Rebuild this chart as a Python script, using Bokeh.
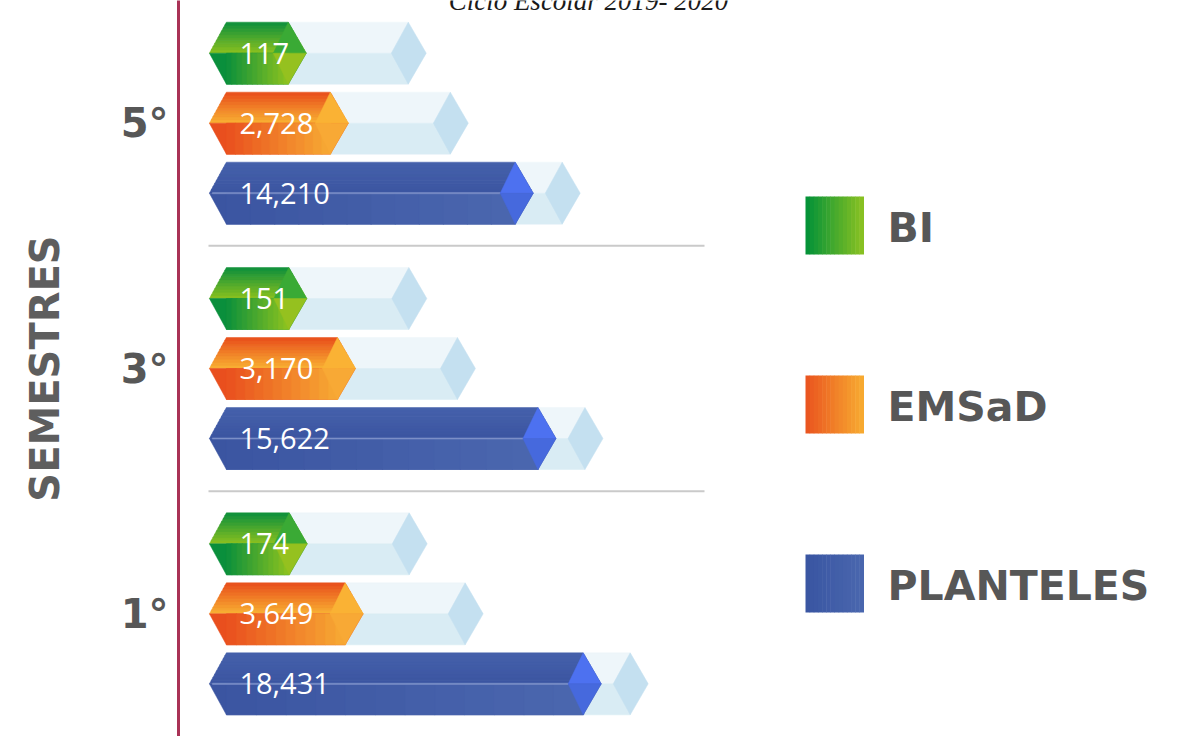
from bokeh.plotting import figure
from bokeh.models import Range1d, FactorRange, ColumnDataSource
from bokeh.embed import file_html
from bokeh.resources import INLINE
from bokeh.core.properties import value

# ---------------- data ----------------
semesters = ["5°", "3°", "1°"]
series = ["BI", "EMSaD", "PLANTELES"]
bi_values = [117, 151, 174]
emsad_values = [2728, 3170, 3649]
planteles_values = [14210, 15622, 18431]
title_text = "Ciclo Escolar 2019- 2020"
axis_title = "SEMESTRES"

values_by_series = {"BI": bi_values, "EMSaD": emsad_values, "PLANTELES": planteles_values}

# ---------------- style / layout ----------------
W, H = 1170, 736
LEFT = 178
FRAME_W = W - LEFT
X_START, X_END = -6700, 54900
U = (X_END - X_START) / FRAME_W          # value units per pixel
RP = 0.0
N_F = len(semesters)
UNIT_PX = H / (N_F * (1 + RP))
Y_START = -N_F * RP / 2
HALF = 31 / UNIT_PX                      # half bar height (categorical units)
EY = 0.6 / UNIT_PX
DODGE = {"BI": 70 / UNIT_PX, "EMSaD": 0.0, "PLANTELES": -70 / UNIT_PX}
TIP_L, TIP_R, FACE_BACK = 17 * U, 18 * U, 15 * U
BASE = -77 * U
LABEL_X = BASE + 30 * U


def py(fig_y):
    """figure pixel row -> synthetic categorical coordinate (decorations only)"""
    return Y_START + (H - fig_y) / UNIT_PX


STYLE = {
    "BI": dict(top=("#0d8f3c", "#8cc11f"), bottom=("#0a8f3c", "#8ec31f"),
               face=("#3aaa35", "#95c11f"), track_px=120, midline=None,
               legend=("#009139", "#8cc221")),
    "EMSaD": dict(top=("#e84e1c", "#f9b233"), bottom=("#e94f1e", "#f7aa34"),
                  face=("#fab234", "#f8a935"), track_px=120, midline=None,
                  legend=("#e9531f", "#f8ac31")),
    "PLANTELES": dict(top=("#4661ab", "#3b55a1"), bottom=("#3b55a1", "#4b67af"),
                      face=("#4d71f0", "#4669dd"), track_px=47, midline="#7d90c9",
                      legend=("#3955a2", "#4a67ae")),
}
TRACK_TOP, TRACK_BOTTOM, TRACK_END = "#eef6fa", "#d9ecf4", "#c4e0f0"


def mix(c1, c2, t):
    a = [int(c1[i:i + 2], 16) for i in (1, 3, 5)]
    b = [int(c2[i:i + 2], 16) for i in (1, 3, 5)]
    return "#%02x%02x%02x" % tuple(round(a[i] + (b[i] - a[i]) * t) for i in range(3))


y_range = FactorRange(*reversed(semesters), range_padding=RP)

p = figure(width=W, height=H, x_range=Range1d(X_START, X_END), y_range=y_range,
           x_axis_location=None, output_backend="svg", toolbar_location=None,
           min_border_left=LEFT, min_border_right=0, min_border_top=0,
           min_border_bottom=0, title=None)
p.extra_x_ranges = {"px": Range1d(LEFT, W)}
p.xgrid.visible = False
p.ygrid.visible = False
p.outline_line_color = None
p.background_fill_color = "white"
p.border_fill_color = "white"

# ---------------- bars (prism shapes) ----------------
xs_l, ys_l, cols = [], [], []


def add(xs, offs, s, k, c):
    xs_l.append(list(xs))
    ys_l.append([(s, DODGE[k] + o) for o in offs])
    cols.append(c)


for si, s in enumerate(semesters):
    for k in series:
        v = values_by_series[k][si]
        st = STYLE[k]
        te = v + st["track_px"] * U
        # light track behind the bar
        add([v, te, te, v], [0, 0, HALF, HALF], s, k, TRACK_TOP)
        add([v, te, te, v], [0, 0, -HALF, -HALF], s, k, TRACK_BOTTOM)
        add([te - 17 * U, te, te + 18 * U, te], [0, HALF, 0, -HALF], s, k, TRACK_END)
        # top half, vertical gradient
        N = 10
        for i in range(N):
            y1 = HALF * i / N
            y2 = min(HALF, HALF * (i + 1) / N + EY)
            xl1, xl2 = BASE + TIP_L * y1 / HALF, BASE + TIP_L * y2 / HALF
            xr1, xr2 = v + TIP_R * (1 - y1 / HALF), v + TIP_R * (1 - y2 / HALF)
            add([xl1, xl2, xr2, xr1], [y1, y2, y2, y1], s, k,
                mix(st["top"][1], st["top"][0], (i + 0.5) / N))
        # bottom half, horizontal gradient
        add([BASE, BASE + TIP_L, v, v + TIP_R], [0, -HALF, -HALF, 0], s, k, st["bottom"][0])
        M = 12
        xb0 = BASE + TIP_L
        for i in range(M):
            xa = xb0 + (v - xb0) * i / M
            xb = xb0 + (v - xb0) * (i + 1) / M + 0.6 * U
            add([xa, xb, xb, xa], [0, 0, -HALF, -HALF], s, k,
                mix(st["bottom"][0], st["bottom"][1], (i + 0.5) / M))
        if st["midline"]:
            add([BASE + 3 * U, v - FACE_BACK, v - FACE_BACK, BASE + 3 * U],
                [-EY, -EY, EY, EY], s, k, st["midline"])
        # end face
        add([v - FACE_BACK, v, v + TIP_R], [0, HALF, 0], s, k, st["face"][0])
        add([v - FACE_BACK, v, v + TIP_R], [0, -HALF, 0], s, k, st["face"][1])

poly_src = ColumnDataSource(dict(xs=xs_l, ys=ys_l, color=cols))
p.patches("xs", "ys", source=poly_src, fill_color="color", line_color="color",
          line_width=0.5)

# value labels
lab_y, lab_t = [], []
for si, s in enumerate(semesters):
    for k in series:
        lab_y.append((s, DODGE[k]))
        lab_t.append(f"{values_by_series[k][si]:,}")
lab_src = ColumnDataSource(dict(x=[LABEL_X] * len(lab_y), y=lab_y, t=lab_t))
p.text("x", "y", text="t", source=lab_src, text_color="white",
       text_font=value("Open Sans"), text_font_size="29px",
       text_align="left", text_baseline="middle")

# group separators
sep_y = [(s, -0.5) for s in semesters[:-1]]
p.segment(x0=[208] * len(sep_y), x1=[704] * len(sep_y), y0=sep_y, y1=sep_y,
          x_range_name="px", line_color="#cacaca", line_width=2)

# legend
legend_y = [225, 404, 583]
SQ = 58
for k, yc in zip(series, legend_y):
    c0, c1 = STYLE[k]["legend"]
    n = 14
    lefts = [805 + SQ * i / n for i in range(n)]
    rights = [805 + SQ * (i + 1) / n + 0.5 for i in range(n)]
    p.quad(left=lefts, right=rights, top=[py(yc - SQ / 2)] * n, bottom=[py(yc + SQ / 2)] * n,
           fill_color=[mix(c0, c1, (i + 0.5) / n) for i in range(n)], line_color=None,
           x_range_name="px")
p.text(x=[887] * 3, y=[py(y + 2) for y in legend_y], text=series,
       x_range_name="px",
       text_font=value("DejaVu Sans"), text_font_style="bold", text_font_size="41px",
       text_color="#575757", text_align="left", text_baseline="middle")

# title (cut at the top edge, as in the reference)
p.text(x=[588], y=[py(0)], text=[title_text], x_range_name="px",
       text_font=value("Liberation Serif"), text_font_style="italic",
       text_font_size="27px", text_align="center", text_baseline="alphabetic",
       text_color="#1a1a1a")

# y axis
ax = p.yaxis[0]
ax.axis_line_color = "#a93256"
ax.axis_line_width = 3
ax.major_tick_line_color = None
ax.minor_tick_line_color = None
ax.major_tick_out = 0
ax.major_label_standoff = 10
ax.major_label_text_font = "DejaVu Sans"
ax.major_label_text_font_style = "bold"
ax.major_label_text_font_size = "40px"
ax.major_label_text_color = "#575757"
ax.axis_label = axis_title
ax.axis_label_text_font = "DejaVu Sans"
ax.axis_label_text_font_style = "bold"
ax.axis_label_text_font_size = "40px"
ax.axis_label_text_color = "#5e5e5e"
ax.axis_label_standoff = 50

open("out.html", "w").write(file_html(p, INLINE))
